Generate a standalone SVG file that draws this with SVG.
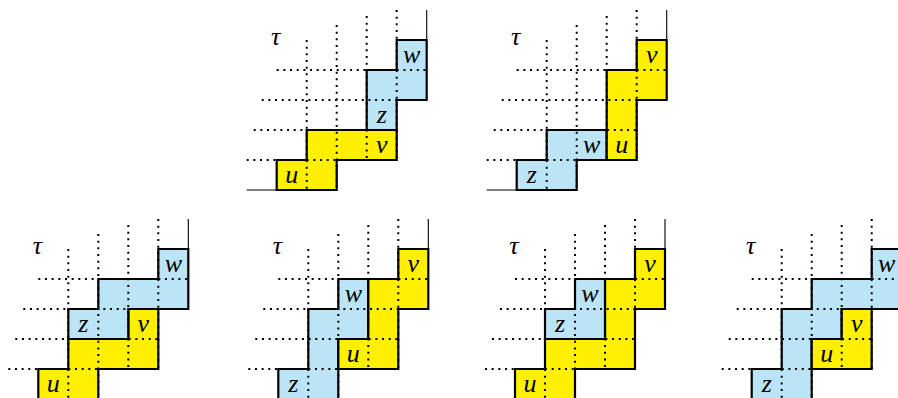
<svg xmlns="http://www.w3.org/2000/svg" width="898" height="398" viewBox="0 0 898 398">
<style>
.y{fill:#FFF000;stroke:#000;stroke-width:2.2;stroke-linejoin:miter}
.b{fill:#BCE4F7;stroke:#000;stroke-width:2.2;stroke-linejoin:miter}
.dot{fill:none;stroke:#000;stroke-width:2;stroke-dasharray:2 4.67}
.thin{fill:none;stroke:#000;stroke-width:1.1}
.lbl{font-family:'Liberation Serif','DejaVu Serif',serif;font-style:italic;font-size:26px;text-anchor:middle;fill:#000}
</style>
<defs>
<g id="grid">
<path class="dot" d="M-30 -30H120 M-23 -60H120 M-15 -90H150 M0 -120H150 M30 -150V0 M60 -165V0 M90 -174V-30 M120 -180V-30"/>
<path class="thin" d="M-30 0H0 M150 -180V-150"/>
<text class="lbl" x="-1" y="-145">τ</text>
</g>
</defs>

<g id="panel1" transform="translate(276.7,190)">
<g id="p1-yellow"><path class="y" d="M0 0V-30H30V-60H120V-30H60V0Z"/></g>
<g id="p1-blue"><path class="b" d="M90 -60V-120H120V-150H150V-90H120V-60Z"/></g>
<use href="#grid"/>
<g class="lbl"><text x="15" y="-7">u</text><text x="105" y="-37">v</text><text x="105" y="-67">z</text><text x="135" y="-127">w</text></g>
</g>

<g id="panel2" transform="translate(516.7,190)">
<g id="p2-blue"><path class="b" d="M0 0V-30H30V-60H90V-30H60V0Z"/></g>
<g id="p2-yellow"><path class="y" d="M90 -30V-120H120V-150H150V-90H120V-30Z"/></g>
<use href="#grid"/>
<g class="lbl"><text x="15" y="-7">z</text><text x="75" y="-37">w</text><text x="105" y="-37">u</text><text x="135" y="-127">v</text></g>
</g>

<g id="panel3" transform="translate(38.3,399)">
<g id="p3-yellow"><path class="y" d="M0 0V-30H30V-60H90V-90H120V-30H60V0Z"/></g>
<g id="p3-blue"><path class="b" d="M30 -60V-90H60V-120H120V-150H150V-90H90V-60Z"/></g>
<use href="#grid"/>
<g class="lbl"><text x="15" y="-7">u</text><text x="45" y="-67">z</text><text x="105" y="-67">v</text><text x="135" y="-127">w</text></g>
</g>

<g id="panel4" transform="translate(278.3,399)">
<g id="p4-blue"><path class="b" d="M0 0V-30H30V-90H60V-120H90V-60H60V0Z"/></g>
<g id="p4-yellow"><path class="y" d="M60 -30V-60H90V-120H120V-150H150V-90H120V-30Z"/></g>
<use href="#grid"/>
<g class="lbl"><text x="15" y="-7">z</text><text x="75" y="-37">u</text><text x="75" y="-97">w</text><text x="135" y="-127">v</text></g>
</g>

<g id="panel5" transform="translate(515,399)">
<g id="p5-yellow"><path class="y" d="M0 0V-30H30V-60H90V-120H120V-150H150V-90H120V-30H60V0Z"/></g>
<g id="p5-blue"><path class="b" d="M30 -60V-90H60V-120H90V-60Z"/></g>
<use href="#grid"/>
<g class="lbl"><text x="15" y="-7">u</text><text x="45" y="-67">z</text><text x="75" y="-97">w</text><text x="135" y="-127">v</text></g>
</g>

<g id="panel6" transform="translate(751.7,399)">
<g id="p6-blue"><path class="b" d="M0 0V-30H30V-90H60V-120H120V-150H150V-90H90V-60H60V0Z"/></g>
<g id="p6-yellow"><path class="y" d="M60 -30V-60H90V-90H120V-30Z"/></g>
<use href="#grid"/>
<g class="lbl"><text x="15" y="-7">z</text><text x="75" y="-37">u</text><text x="105" y="-67">v</text><text x="135" y="-127">w</text></g>
</g>
</svg>
